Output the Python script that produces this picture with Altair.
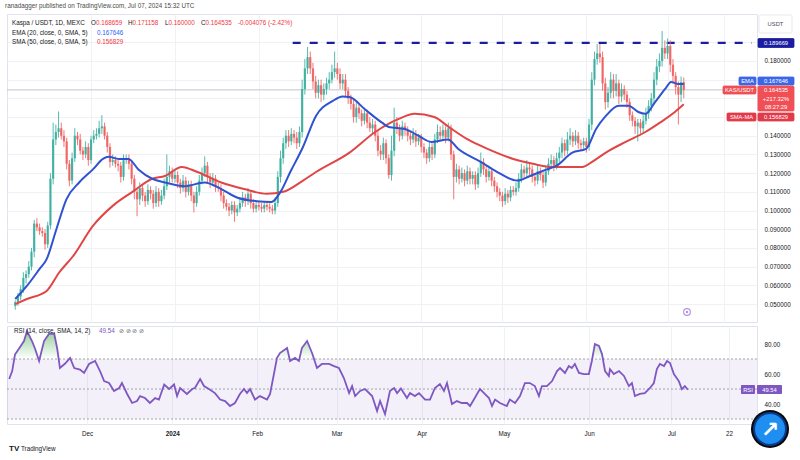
import altair as alt
import pandas as pd

# ---------------- data (prices in thousandths of USDT) ----------------
first_open_m = 49.0
close_m = [
    51, 54, 58, 64, 66, 70, 78, 93, 91, 89,
    88, 82, 92, 117, 138, 142, 144, 140, 137, 125,
    116, 128, 140, 138, 132, 130, 134, 127, 138, 140,
    141, 144, 145, 140, 134, 126, 127, 125, 124, 118,
    127, 128, 125, 117, 110, 106, 112, 108, 105, 111,
    109, 104, 110, 105, 108, 113, 118, 121, 117, 119,
    115, 112, 116, 110, 114, 108, 104, 110, 116, 120,
    124, 118, 115, 117, 113, 112, 108, 104, 102, 100,
    103, 99, 101, 104, 107, 105, 109, 104, 101, 103,
    102, 101, 103, 102, 101, 100, 104, 118, 128, 136,
    140, 137, 141, 139, 136, 142, 165, 176, 182, 176,
    169, 163, 167, 162, 165, 168, 170, 174, 176, 173,
    168, 170, 164, 160, 157, 150, 155, 152, 148, 152,
    147, 144, 146, 140, 132, 130, 136, 128, 119, 132,
    147, 144, 140, 145, 143, 140, 138, 141, 137, 139,
    134, 131, 128, 134, 130, 138, 142, 140, 143, 139,
    144, 130, 118, 122, 117, 120, 116, 121, 117, 119,
    114, 120, 126, 122, 118, 121, 116, 113, 110, 108,
    105, 109, 107, 111, 110, 112, 117, 122, 120, 123,
    122, 118, 116, 121, 119, 115, 121, 125, 127, 124,
    128, 131, 136, 132, 138, 140, 137, 140, 136, 135,
    137, 134, 146, 170, 181, 184, 182, 168, 158, 163,
    170, 164, 168, 161, 165, 162, 158, 151, 148, 145,
    147, 144, 148, 152, 156, 160, 170, 177, 180, 187,
    184, 188, 178, 172, 166, 162, 168.659, 164.535,
]
up_wick_m = [
    1, 2, 2, 3, 2, 3, 2, 2, 3, 2,
    2, 2, 2, 3, 9, 4, 9, 3, 3, 2,
    2, 3, 4, 2, 3, 2, 3, 2, 2, 3,
    3, 4, 6, 2, 2, 2, 3, 2, 2, 2,
    3, 2, 2, 2, 2, 2, 3, 2, 2, 3,
    2, 2, 3, 2, 3, 4, 12, 3, 2, 3,
    2, 2, 3, 2, 2, 2, 2, 3, 3, 3,
    5, 2, 2, 3, 2, 2, 2, 2, 2, 2,
    2, 2, 2, 3, 3, 2, 3, 2, 2, 2,
    2, 2, 2, 2, 2, 2, 3, 3, 4, 3,
    3, 3, 3, 2, 3, 3, 5, 5, 5.5, 3,
    3, 3, 3, 3, 3, 3, 4, 4, 9, 3,
    3, 3, 3, 2, 2, 3, 3, 2, 2, 3,
    2, 3, 3, 2, 3, 3, 3, 2, 2, 8,
    8, 3, 2, 3, 2, 2, 2, 3, 2, 2,
    2, 2, 2, 3, 2, 3, 4, 3, 3, 2,
    3, 2, 2, 3, 2, 3, 2, 3, 2, 2,
    2, 3, 5, 2, 2, 3, 2, 2, 2, 2,
    2, 3, 2, 2, 2, 3, 3, 3, 2, 4,
    2, 2, 2, 3, 2, 2, 3, 3, 3, 2,
    3, 3, 3, 2, 4, 4, 2, 3, 2, 2,
    2, 2, 3, 4, 4, 5, 5, 3, 3, 3,
    4, 3, 5, 2, 3, 2, 2, 2, 2, 2,
    2, 2, 3, 3, 3, 3, 4, 4, 4, 9,
    4, 4, 3, 3, 2, 3, 3, 2.5,
]
dn_wick_m = [
    2, 2, 2, 2, 3, 2, 2, 3, 2, 2,
    2, 3, 2, 2, 3, 3, 3, 2, 3, 3,
    3, 2, 2, 3, 2, 3, 2, 3, 2, 2,
    2, 2, 3, 2, 3, 3, 2, 2, 3, 3,
    2, 2, 3, 3, 4, 9, 3, 3, 3, 2,
    3, 3, 2, 3, 2, 2, 2, 3, 2, 2,
    3, 3, 2, 3, 2, 3, 5, 2, 2, 2,
    2, 3, 3, 2, 3, 2, 3, 3, 2, 3,
    2, 5, 2, 2, 2, 3, 2, 3, 2, 2,
    2, 2, 2, 2, 2, 2, 2, 2, 3, 3,
    3, 3, 2, 3, 3, 2, 3, 3, 3, 3,
    4, 3, 3, 4, 3, 3, 3, 2, 3, 3,
    3, 3, 3, 3, 3, 3, 3, 3, 3, 2,
    3, 2, 3, 3, 3, 3, 3, 3, 2, 3,
    3, 3, 3, 2, 3, 3, 3, 2, 3, 2,
    3, 3, 3, 2, 3, 2, 2, 3, 2, 3,
    2, 3, 12, 3, 3, 2, 3, 2, 3, 3,
    3, 2, 2, 3, 3, 2, 3, 3, 3, 3,
    3, 2, 3, 2, 2, 2, 2, 2, 3, 2,
    3, 3, 3, 2, 3, 3, 2, 2, 2, 3,
    2, 2, 3, 3, 2, 3, 3, 2, 3, 3,
    2, 3, 2, 3, 3, 3, 3, 4, 4, 3,
    3, 4, 3, 4, 3, 3, 3, 3, 3, 4,
    8, 3, 3, 2, 3, 3, 3, 3, 3, 3,
    3, 3, 4, 4, 4, 16, 4, 4.535,
]

# EMA 20 and SMA 50 (day index from 2023-11-03, value in thousandths)
ema_day = [0, 4.3, 9, 11.6, 15.2, 18.9, 23.6, 28.7, 32.4, 34.5,
           38.2, 41.8, 45.5, 50.6, 55.3, 62.6, 69.9, 76.1, 81.9, 89.2,
           94.7, 98, 101.6, 106.3, 111.1, 117.3, 120.9, 123.5, 129.3, 135.5,
           138, 143.9, 149, 153.7, 159.9, 163.6, 172, 178.1, 185.4, 190.2,
           196.4, 200, 205.8, 210.9, 214.6, 218.2, 223, 226.6, 230.2, 232.8,
           236.4, 240.1, 242.3, 244.8, 247]
ema_val_m = [52.7, 59.7, 68.8, 74, 90, 106, 115, 122, 127.6, 128.7,
             127.6, 127.6, 122, 117, 115, 113, 115, 111.5, 107, 105,
             104.6, 110, 120.6, 134, 150.6, 158.6, 161, 160.7, 154, 147,
             144.7, 143.6, 140, 136.7, 138, 133, 126, 120.6, 116, 118.5,
             122, 124, 131, 133, 143.6, 150.6, 156, 156, 152.7, 151.7,
             158, 165, 168.8, 167.7, 167.646]
sma_day = [0, 4.3, 11.6, 16.3, 21.4, 28.7, 36, 43.3, 50.6, 55.3,
           61.5, 67.3, 76.1, 84.5, 92.9, 99, 106.3, 111.1, 123.5, 133,
           141.7, 147.5, 154.8, 159.9, 167.2, 174.5, 184, 191.2, 198.5, 209.5,
           213.1, 218.2, 225.5, 232.8, 238.6, 243.7, 247]
sma_val_m = [50, 52.7, 57, 67, 75.7, 91.8, 102.5, 110, 117, 118.5,
             123.3, 120.6, 115, 111.5, 109, 110, 116, 120.6, 131, 142,
             149, 151.7, 150, 145, 138, 133, 127.6, 125, 123.3, 123.3,
             126, 131, 136.7, 142, 147.4, 152.7, 156.829]

rsi_day = [-0.4, 0.7, 1.7, 3.2, 5.0, 6.1, 7.9, 9.0, 10.5, 12.3,
           14.1, 16.0, 17.1, 18.1, 20.0, 21.8, 23.3, 25.4, 26.9, 28.7,
           30.9, 32.7, 34.2, 36.0, 37.8, 39.7, 40.7, 42.6, 44.4, 46.2,
           47.3, 49.1, 50.9, 52.8, 54.2, 56.1, 57.9, 59.7, 60.8, 61.9,
           64.4, 66.3, 67.3, 69.2, 70.6, 72.4, 74.6, 76.5, 78.3, 80.1,
           81.9, 83.7, 85.2, 86.3, 87.4, 89.2, 91.0, 93.6, 94.7, 96.1,
           97.2, 98.3, 100.9, 102.0, 103.8, 105.2, 106.3, 108.2, 110.0, 111.8,
           113.6, 116.2, 118.0, 119.8, 121.6, 123.5, 124.6, 125.7, 127.5, 129.3,
           131.9, 133.7, 134.8, 136.6, 138.4, 139.9, 141.0, 142.4, 144.6, 145.7,
           147.5, 149.0, 151.2, 153.0, 154.8, 156.6, 158.1, 159.2, 161.0, 162.8,
           164.6, 166.5, 167.6, 169.0, 171.2, 172.7, 174.5, 175.6, 176.7, 178.5,
           181.0, 182.1, 184.0, 185.8, 187.6, 189.4, 191.2, 192.7, 193.8, 195.6,
           197.5, 199.3, 200.4, 202.2, 203.6, 204.7, 205.8, 207.3, 209.1, 210.9,
           212.0, 213.1, 214.6, 215.7, 216.8, 218.2, 218.6, 220.0, 221.9, 223.7,
           225.5, 226.6, 227.7, 229.5, 231.3, 233.2, 234.6, 235.7, 236.8, 238.3,
           239.4, 240.5, 241.9, 243.7, 244.8, 245.9, 247.0]
rsi_val = [56.7, 62, 73, 77, 82, 88.7, 82, 77, 68.7, 82,
           86.7, 87, 77, 64, 67, 70.7, 64, 63, 60.7, 66.7,
           68.7, 62, 55.3, 54, 48.7, 50.7, 54, 46.7, 40.7, 42,
           45.3, 44, 40.7, 44, 43, 53, 50, 53, 45.3, 50.7,
           46.7, 50, 50.7, 56.7, 52, 50, 47.3, 43, 42, 38.7,
           40.7, 46.7, 50, 47.3, 50, 43, 45.3, 43, 46.7, 60,
           70.7, 74, 77.3, 68.7, 70.7, 68.7, 77.3, 82, 74, 64,
           66.7, 66.7, 65.3, 64, 57.3, 47.3, 52, 45.3, 48.7, 50,
           45.3, 35.3, 42, 33.3, 48.7, 50.7, 47.3, 50.4, 44, 47.3,
           45.3, 47.3, 43, 43, 50.7, 53.3, 48.7, 54, 40, 42,
           40.7, 40.7, 38.7, 43, 50, 47.3, 44, 38.7, 43, 40.7,
           38.7, 43, 40.7, 45.3, 54, 54, 52, 45.3, 52, 52,
           55.3, 62, 64, 60.7, 65.3, 64, 66.7, 60.7, 60, 60,
           68.7, 80, 78.7, 73.3, 62, 58.7, 63.3, 60, 62, 58.7,
           52, 54, 45.3, 46.7, 47.3, 50.7, 54, 63.3, 66.7, 65.3,
           68.7, 67.3, 60, 55.3, 50, 52, 49.54]

month_ticks = [28, 59, 90, 119, 150, 180, 211, 241, 262]
month_labels = ["Dec", "2024", "Feb", "Mar", "Apr", "May", "Jun", "Jul", "22"]
price_ticks = [0.05, 0.06, 0.07, 0.08, 0.09, 0.10, 0.11, 0.12, 0.13, 0.14,
               0.15, 0.16, 0.17, 0.18, 0.19]
rsi_ticks = [40, 60, 80]
rsi_levels = [70, 50, 30]

resistance = 0.189669
resistance_start_day = 102.5
last_close = 0.164535

assert len(close_m) == len(up_wick_m) == len(dn_wick_m)
assert len(ema_day) == len(ema_val_m) and len(sma_day) == len(sma_val_m)
assert len(rsi_day) == len(rsi_val)

# ---------------- styling ----------------
FONT = "Liberation Sans"
DARK = "#131722"
RED = "#f23645"
BLUE = "#2962ff"
PURPLE = "#7e57c2"
GRID = "#eff1f5"
UP = "#3aae9e"
DOWN = "#ef5f5f"
EMA_C = "#2f52d0"
SMA_C = "#e04646"
NAVY = "#1c1ca0"
FS = 6.3

W = 750
PH = 308
RH = 98
X_DOM = [-1.2, 272.2]

opens = [first_open_m] + close_m[:-1]
rows = []
for i, (o, c, uw, dw) in enumerate(zip(opens, close_m, up_wick_m, dn_wick_m)):
    rows.append(dict(day=i, open=o / 1000, close=c / 1000,
                     high=(max(o, c) + uw) / 1000, low=(min(o, c) - dw) / 1000,
                     dir="up" if c >= o else "down"))
candles = pd.DataFrame(rows)
ema_df = pd.DataFrame({"day": ema_day, "v": [v / 1000 for v in ema_val_m]})
sma_df = pd.DataFrame({"day": sma_day, "v": [v / 1000 for v in sma_val_m]})
rsi_df = pd.DataFrame({"day": rsi_day, "rsi": rsi_val})

xs = alt.Scale(domain=X_DOM, nice=False, zero=False)
ys = alt.Scale(domain=[0.0404, 0.2051], nice=False, zero=False)
rs = alt.Scale(domain=[26.7, 92], nice=False, zero=False)

x_hidden = alt.Axis(values=month_ticks, labels=False, ticks=False, domain=False,
                    grid=True, gridColor=GRID, title=None)
label_expr_x = " : ".join(f"datum.value == {d} ? '{l}'" for d, l in zip(month_ticks, month_labels)) + " : ''"
x_shown = alt.Axis(values=month_ticks, labelExpr=label_expr_x, ticks=False, domain=False,
                   grid=True, gridColor=GRID, title=None, labelFontSize=FS, labelColor=DARK,
                   labelFont=FONT, labelPadding=6,
                   labelFontWeight={"condition": {"test": "datum.value == 59", "value": "bold"},
                                    "value": "normal"})
y_price_axis = alt.Axis(orient="right", values=price_ticks,
                        labelExpr="(datum.value > 0.145 && datum.value < 0.175) || datum.value > 0.185 ? '' : format(datum.value, '.6f')",
                        ticks=False, domain=False, grid=True, gridColor=GRID, title=None,
                        labelFontSize=FS, labelColor=DARK, labelFont=FONT, labelPadding=7)
y_rsi_axis = alt.Axis(orient="right", values=rsi_ticks, format=".2f", ticks=False, domain=False,
                      grid=False, title=None, labelFontSize=FS, labelColor=DARK, labelFont=FONT,
                      labelPadding=7)


def X(field, axis):
    return alt.X(field, type="quantitative", scale=xs, axis=axis)


def YP(field):
    return alt.Y(field, type="quantitative", scale=ys, axis=y_price_axis)


def YR(field):
    return alt.Y(field, type="quantitative", scale=rs, axis=y_rsi_axis)


color_dir = alt.Color("dir:N", scale=alt.Scale(domain=["up", "down"], range=[UP, DOWN]), legend=None)

# ---------------- price panel ----------------
price_line = alt.Chart(pd.DataFrame({"y": [last_close]})).mark_rule(
    color="#c3c6ce", strokeWidth=1).encode(y=YP("y"))
res_line = alt.Chart(pd.DataFrame({"x": [resistance_start_day], "x2": [X_DOM[1]], "y": [resistance]})).mark_rule(
    color=NAVY, strokeWidth=2.4, strokeDash=[8, 9]).encode(x=X("x", x_hidden), x2="x2:Q", y=YP("y"))
wicks = alt.Chart(candles).mark_rule(strokeWidth=1, opacity=0.85).encode(
    x=X("day", x_hidden), y=YP("low"), y2="high:Q", color=color_dir)
bodies = alt.Chart(candles).mark_bar(size=2.2, opacity=0.9).encode(
    x=X("day", x_hidden), y=YP("open"), y2="close:Q", color=color_dir)
ema_line = alt.Chart(ema_df).mark_line(color=EMA_C, strokeWidth=2, interpolate="monotone").encode(
    x=X("day", x_hidden), y=YP("v"))
sma_line = alt.Chart(sma_df).mark_line(color=SMA_C, strokeWidth=2, interpolate="monotone").encode(
    x=X("day", x_hidden), y=YP("v"))

p_left_text = pd.DataFrame([
    ("Kaspa / USDT, 1D, MEXC", 5, 9, DARK),
    ("O", 84, 9, DARK), ("0.168659", 89, 9, RED),
    ("H", 121, 9, DARK), ("0.171158", 125.5, 9, RED),
    ("L", 158, 9, DARK), ("0.160000", 161.5, 9, RED),
    ("C", 194, 9, DARK), ("0.164535", 198.5, 9, RED),
    ("-0.004076 (-2.42%)", 231, 9, RED),
    ("EMA (20, close, 0, SMA, 5)", 5, 18.5, DARK), ("0.167646", 90, 18.5, BLUE),
    ("SMA (50, close, 0, SMA, 5)", 5, 28, DARK), ("0.156829", 90, 28, RED),
], columns=["t", "px", "py", "c"])
p_boxes = pd.DataFrame([
    (751, 787, 24.5, 33.5, NAVY, NAVY),
    (732, 749, 63, 71, "#3a66e8", "#3a66e8"),
    (751, 787, 63, 71, "#3a66e8", "#3a66e8"),
    (716, 749, 72, 80, "#ef4f55", "#ef4f55"),
    (751, 787, 72, 97, "#ef4f55", "#ef4f55"),
    (720, 749, 99, 107, "#e23a48", "#e23a48"),
    (751, 787, 99, 107, "#e23a48", "#e23a48"),
    (752, 785, 1, 19, "#ffffff", "#e0e3eb"),
], columns=["x", "x2", "y", "y2", "f", "s"])
p_box_text = pd.DataFrame([
    ("0.189669", 769, 29, "#ffffff"),
    ("EMA", 740.5, 67, "#ffffff"), ("0.167646", 769, 67, "#ffffff"),
    ("KAS/USDT", 732.5, 76, "#ffffff"), ("0.164535", 769, 76, "#ffffff"),
    ("+217.32%", 769, 84.5, "#ffffff"), ("08:27:29", 769, 92.5, "#ffffff"),
    ("SMA-MA", 734.5, 103, "#ffffff"), ("0.156829", 769, 103, "#ffffff"),
    ("USDT", 768.5, 10, "#4a4d57"),
], columns=["t", "px", "py", "c"])

PX = alt.X("px:Q", scale=None, axis=None)
PY = alt.Y("py:Q", scale=None, axis=None)
CC = alt.Color("c:N", scale=None, legend=None)

p_text_layer = alt.Chart(p_left_text).mark_text(align="left", baseline="middle", fontSize=FS, font=FONT).encode(
    x=PX, y=PY, text="t:N", color=CC)
p_box_layer = alt.Chart(p_boxes).mark_rect(strokeWidth=0.8, cornerRadius=1).encode(
    x=alt.X("x:Q", scale=None, axis=None), x2="x2:Q",
    y=alt.Y("y:Q", scale=None, axis=None), y2="y2:Q",
    fill=alt.Fill("f:N", scale=None, legend=None), stroke=alt.Stroke("s:N", scale=None, legend=None))
p_box_text_layer = alt.Chart(p_box_text).mark_text(align="center", baseline="middle", fontSize=5.8, font=FONT).encode(
    x=PX, y=PY, text="t:N", color=CC)
icon = alt.Chart(pd.DataFrame({"px": [680], "py": [298]})).mark_point(
    shape="circle", size=45, stroke="#9a6ad8", strokeWidth=1.2, fill="#ffffff", filled=False).encode(x=PX, y=PY)
icon_dot = alt.Chart(pd.DataFrame({"px": [680], "py": [298]})).mark_point(
    shape="circle", size=6, color="#9a6ad8", filled=True).encode(x=PX, y=PY)

price_panel = alt.layer(
    price_line, res_line, wicks, bodies, sma_line, ema_line,
    p_text_layer, p_box_layer, p_box_text_layer, icon, icon_dot
).properties(width=W, height=PH)

# ---------------- RSI panel ----------------
band = alt.Chart(pd.DataFrame({"hi": [70], "lo": [30]})).mark_rect(color=PURPLE, opacity=0.09).encode(
    y=YR("hi"), y2="lo:Q")
levels = alt.Chart(pd.DataFrame({"v": rsi_levels})).mark_rule(
    color="#a3a6af", strokeWidth=1, strokeDash=[2, 2]).encode(y=YR("v"))
ob_area = alt.Chart(rsi_df).transform_calculate(ob="max(datum.rsi, 70)", base="70").mark_area(
    color=alt.Gradient(gradient="linear", x1=0, x2=0, y1=0, y2=1,
                       stops=[alt.GradientStop(color="rgba(76,175,80,0.6)", offset=0),
                              alt.GradientStop(color="rgba(76,175,80,0.0)", offset=1)])
).encode(x=X("day", x_shown), y=YR("ob"), y2="base:Q")
rsi_line = alt.Chart(rsi_df).mark_line(color=PURPLE, strokeWidth=1.8).encode(
    x=X("day", x_shown), y=YR("rsi"))

r_left_text = pd.DataFrame([
    ("RSI (14, close, SMA, 14, 2)", 7, 5, DARK),
    ("49.54", 92, 5, PURPLE),
    ("\u2298 \u2298 \u2298 \u2298", 112, 5, "#6a6d78"),
    ("TradingView", 14, 123, DARK),
], columns=["t", "px", "py", "c"])
r_boxes = pd.DataFrame([
    (734, 748, 59, 68, PURPLE, PURPLE),
    (750, 775, 59, 68, PURPLE, PURPLE),
], columns=["x", "x2", "y", "y2", "f", "s"])
r_box_text = pd.DataFrame([
    ("RSI", 741, 63.5, "#ffffff"),
    ("49.54", 762.5, 63.5, "#ffffff"),
], columns=["t", "px", "py", "c"])

r_text_layer = alt.Chart(r_left_text).mark_text(align="left", baseline="middle", fontSize=FS, font=FONT).encode(
    x=PX, y=PY, text="t:N", color=CC)
tv_mark = alt.Chart(pd.DataFrame({"t": ["TV"], "px": [2], "py": [123]})).mark_text(
    align="left", baseline="middle", fontSize=8, fontWeight="bold", font=FONT, color=DARK).encode(
    x=PX, y=PY, text="t:N")
r_box_layer = alt.Chart(r_boxes).mark_rect(cornerRadius=1).encode(
    x=alt.X("x:Q", scale=None, axis=None), x2="x2:Q",
    y=alt.Y("y:Q", scale=None, axis=None), y2="y2:Q",
    fill=alt.Fill("f:N", scale=None, legend=None))
r_box_text_layer = alt.Chart(r_box_text).mark_text(align="center", baseline="middle", fontSize=5.8, font=FONT).encode(
    x=PX, y=PY, text="t:N", color=CC)

logo_df = pd.DataFrame({"px": [763, 763, 763], "py": [103, 103, 103],
                        "s": [1450, 1150, 900], "c": ["#0a0a0a", "#0b3a8c", "#1e8ff0"]})
logo = alt.Chart(logo_df).mark_point(shape="circle", filled=True, opacity=1).encode(
    x=PX, y=PY, size=alt.Size("s:Q", scale=None, legend=None), color=CC)
logo_arrow = alt.Chart(pd.DataFrame({"t": ["\u2197"], "px": [763], "py": [104]})).mark_text(
    align="center", baseline="middle", fontSize=22, fontWeight="bold", color="#ffffff", font="DejaVu Sans").encode(
    x=PX, y=PY, text="t:N")

rsi_panel = alt.layer(
    band, levels, ob_area, rsi_line,
    r_text_layer, tv_mark, r_box_layer, r_box_text_layer, logo, logo_arrow
).properties(width=W, height=RH)

chart = alt.vconcat(price_panel, rsi_panel, spacing=2).resolve_scale(
    x="independent", y="independent"
).properties(
    title=alt.TitleParams(text="ranadagger published on TradingView.com, Jul 07, 2024 15:32 UTC",
                          anchor="start", fontSize=FS, fontWeight="normal", color="#4a4a4a",
                          font=FONT, offset=4),
    padding={"left": 5, "top": 3, "right": 0, "bottom": 0},
    background="#ffffff",
).configure_view(stroke="#e0e3eb", strokeWidth=1)

chart.save("out.html", embed_options={"renderer": "svg", "actions": False})
